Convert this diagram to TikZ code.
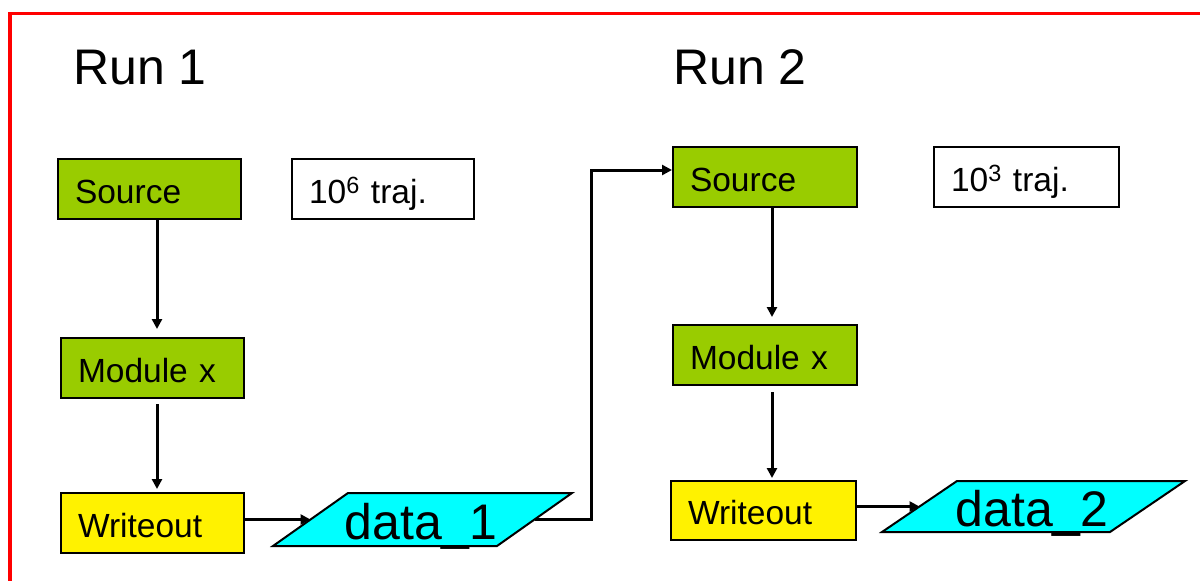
\documentclass[tikz,border=0pt]{standalone}
\usepackage{fontspec}
\setmainfont{Liberation Sans}
\usetikzlibrary{arrows.meta,calc}
\definecolor{boxgreen}{RGB}{153,204,0}
\definecolor{datacyan}{RGB}{0,255,255}
\definecolor{framered}{RGB}{255,0,0}
\begin{document}
\begin{tikzpicture}[x=1pt,y=-1pt,
  box/.style={draw=black,line width=2pt,minimum height=60pt,text width=#1,align=left,
    inner xsep=17pt,inner ysep=0pt,text height=28pt,text depth=0pt,
    font=\fontsize{33.5}{36}\selectfont},
  gbox/.style={box=#1,fill=boxgreen},
  ybox/.style={box=#1,fill=yellow},
  wbox/.style={box=#1,fill=white},
  dshape/.style={draw=black,line width=2pt,fill=datacyan,line join=miter},
  dtext/.style={font=\fontsize{50}{54}\selectfont,text height=40pt,text depth=0pt,inner sep=0pt},
  runtext/.style={font=\fontsize{50}{54}\selectfont,inner sep=0pt,anchor=base west},
  arr/.style={line width=3pt,-{Triangle[length=10pt,width=10pt]}},
  conn/.style={line width=3pt}
]
\useasboundingbox (0,0) rectangle (1200,581);
\fill[white] (0,0) rectangle (1200,581);
\draw[framered,line width=3.5pt] (10,650) -- (10,13.5) -- (1250,13.5);

% Run 1
\node[runtext] (r1) at (73,84) {Run 1};
\node[gbox=149pt] (s1) at (149.5,189) {Source};
\node[wbox=148pt] (t1) at (383,189) {10\textsuperscript{6} traj.};
\node[gbox=149pt] (m1) at (152.5,368) {Module x};
\node[ybox=149pt] (w1) at (152.5,523) {Writeout};
\coordinate (d1bl) at (273,546);
\coordinate (d1tl) at (348,493);
\coordinate (d1tr) at (572,493);
\coordinate (d1br) at (497,546);
\filldraw[dshape] (d1bl) -- (d1tl) -- (d1tr) -- (d1br) -- cycle;
\node[dtext] (d1) at (421,519.5) {data\_1};
\coordinate (d1l) at ($(d1bl)!0.5!(d1tl)$);
\coordinate (d1r) at ($(d1br)!0.5!(d1tr)$);

% Run 2
\node[runtext] (r2) at (673,84) {Run 2};
\node[gbox=150pt] (s2) at (765,177) {Source};
\node[wbox=151pt] (t2) at (1026.5,177) {10\textsuperscript{3} traj.};
\node[gbox=150pt] (m2) at (765,355) {Module x};
\node[ybox=151pt,minimum height=59pt] (w2) at (763.5,510.5) {Writeout};
\coordinate (d2bl) at (882,532);
\coordinate (d2tl) at (957,481);
\coordinate (d2tr) at (1185,481);
\coordinate (d2br) at (1110,532);
\filldraw[dshape] (d2bl) -- (d2tl) -- (d2tr) -- (d2br) -- cycle;
\node[dtext] (d2) at (1032,506.5) {data\_2};
\coordinate (d2l) at ($(d2bl)!0.5!(d2tl)$);
\coordinate (s2in) at ($(s2.west)+(0,-7)$);

% connectors run 1
\draw[arr] ([xshift=7.5pt]s1.south) -- ([xshift=4.5pt,yshift=8pt]m1.north);
\draw[arr] ([xshift=4.5pt,yshift=-5pt]m1.south) -- ([xshift=4.5pt,yshift=3pt]w1.north);
\draw[arr] (w1.east |- d1l) -- (d1l);
\draw[arr,line join=miter] (d1r) -- ++(56.5,0) |- (s2in);

% connectors run 2
\draw[arr] ([xshift=7pt]s2.south) -- ([xshift=7pt,yshift=7pt]m2.north);
\draw[arr] ([xshift=7pt,yshift=-6pt]m2.south) -- ([xshift=8.5pt,yshift=2pt]w2.north);
\draw[arr] (w2.east |- d2l) -- (d2l);
\end{tikzpicture}
\end{document}
